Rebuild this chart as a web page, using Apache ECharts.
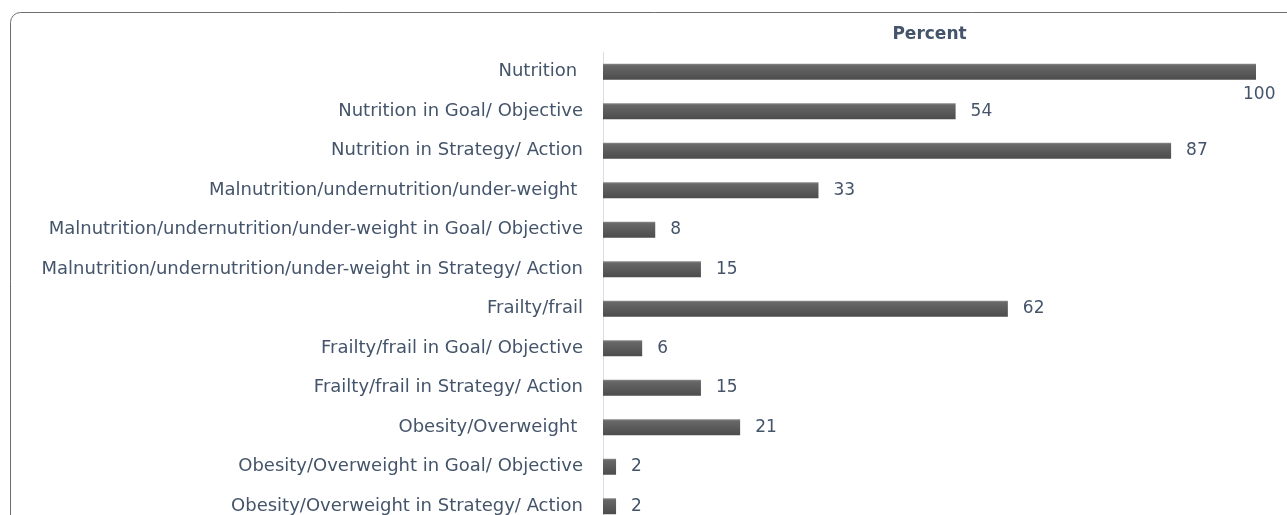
<!DOCTYPE html>
<html>
<head>
<meta charset="utf-8">
<script src="https://cdn.jsdelivr.net/npm/echarts@6/dist/echarts.min.js"></script>
<style>
  html, body { margin: 0; padding: 0; background: #fff; overflow: hidden; }
  /* taller than the window so the last rows can run off the bottom edge like the source */
  #chart { width: 1287px; height: 540px; }
</style>
</head>
<body>
<div id="chart"></div>
<script>
const categories = [
  'Nutrition ',
  'Nutrition in Goal/ Objective',
  'Nutrition in Strategy/ Action',
  'Malnutrition/undernutrition/under-weight ',
  'Malnutrition/undernutrition/under-weight in Goal/ Objective',
  'Malnutrition/undernutrition/under-weight in Strategy/ Action',
  'Frailty/frail',
  'Frailty/frail in Goal/ Objective',
  'Frailty/frail in Strategy/ Action',
  'Obesity/Overweight ',
  'Obesity/Overweight in Goal/ Objective',
  'Obesity/Overweight in Strategy/ Action'
];
const percents = [100, 54, 87, 33, 8, 15, 62, 6, 15, 21, 2, 2];
const axisTitle = 'Percent';

const textColor = '#44546a';
const fontFamily = '"DejaVu Sans", sans-serif';
const barFill = new echarts.graphic.LinearGradient(0, 0, 0, 1, [
  { offset: 0, color: '#8a8a8a' },
  { offset: 0.12, color: '#676767' },
  { offset: 1, color: '#4c4c4c' }
]);

const chart = echarts.init(document.getElementById('chart'), null, { renderer: 'canvas' });

const seriesData = percents.map((v) => {
  const item = { value: v };
  if (v === 100) {
    // no room to the right of the longest bar, label sits below its end
    item.label = { offset: [-28, 23] };
  }
  return item;
});

chart.setOption({
  animation: false,
  textStyle: { fontFamily: fontFamily },
  graphic: [{
    type: 'rect',
    shape: { x: 10.5, y: 12.5, width: 1320, height: 580, r: 10 },
    style: { fill: 'none', stroke: '#6e6e6e', lineWidth: 1 },
    silent: true
  }],
  grid: { left: 603, top: 52, width: 653, height: 474, containLabel: false },
  xAxis: {
    type: 'value',
    position: 'top',
    min: 0,
    max: 100,
    name: axisTitle,
    nameLocation: 'middle',
    nameGap: 9,
    nameTextStyle: { color: textColor, fontSize: 17, fontWeight: 'bold', fontFamily: fontFamily },
    axisLine: { show: false },
    axisTick: { show: false },
    axisLabel: { show: false },
    splitLine: { show: false }
  },
  yAxis: {
    type: 'category',
    inverse: true,
    data: categories,
    axisLine: { show: true, lineStyle: { color: '#d9dee8', width: 1 } },
    axisTick: { show: false },
    axisLabel: { color: textColor, fontSize: 18, margin: 20, fontFamily: fontFamily }
  },
  series: [{
    type: 'bar',
    data: seriesData,
    barWidth: 16,
    itemStyle: { color: barFill },
    label: {
      show: true,
      position: 'right',
      distance: 15,
      color: textColor,
      fontSize: 17,
      fontFamily: fontFamily
    }
  }]
});
</script>
</body>
</html>
